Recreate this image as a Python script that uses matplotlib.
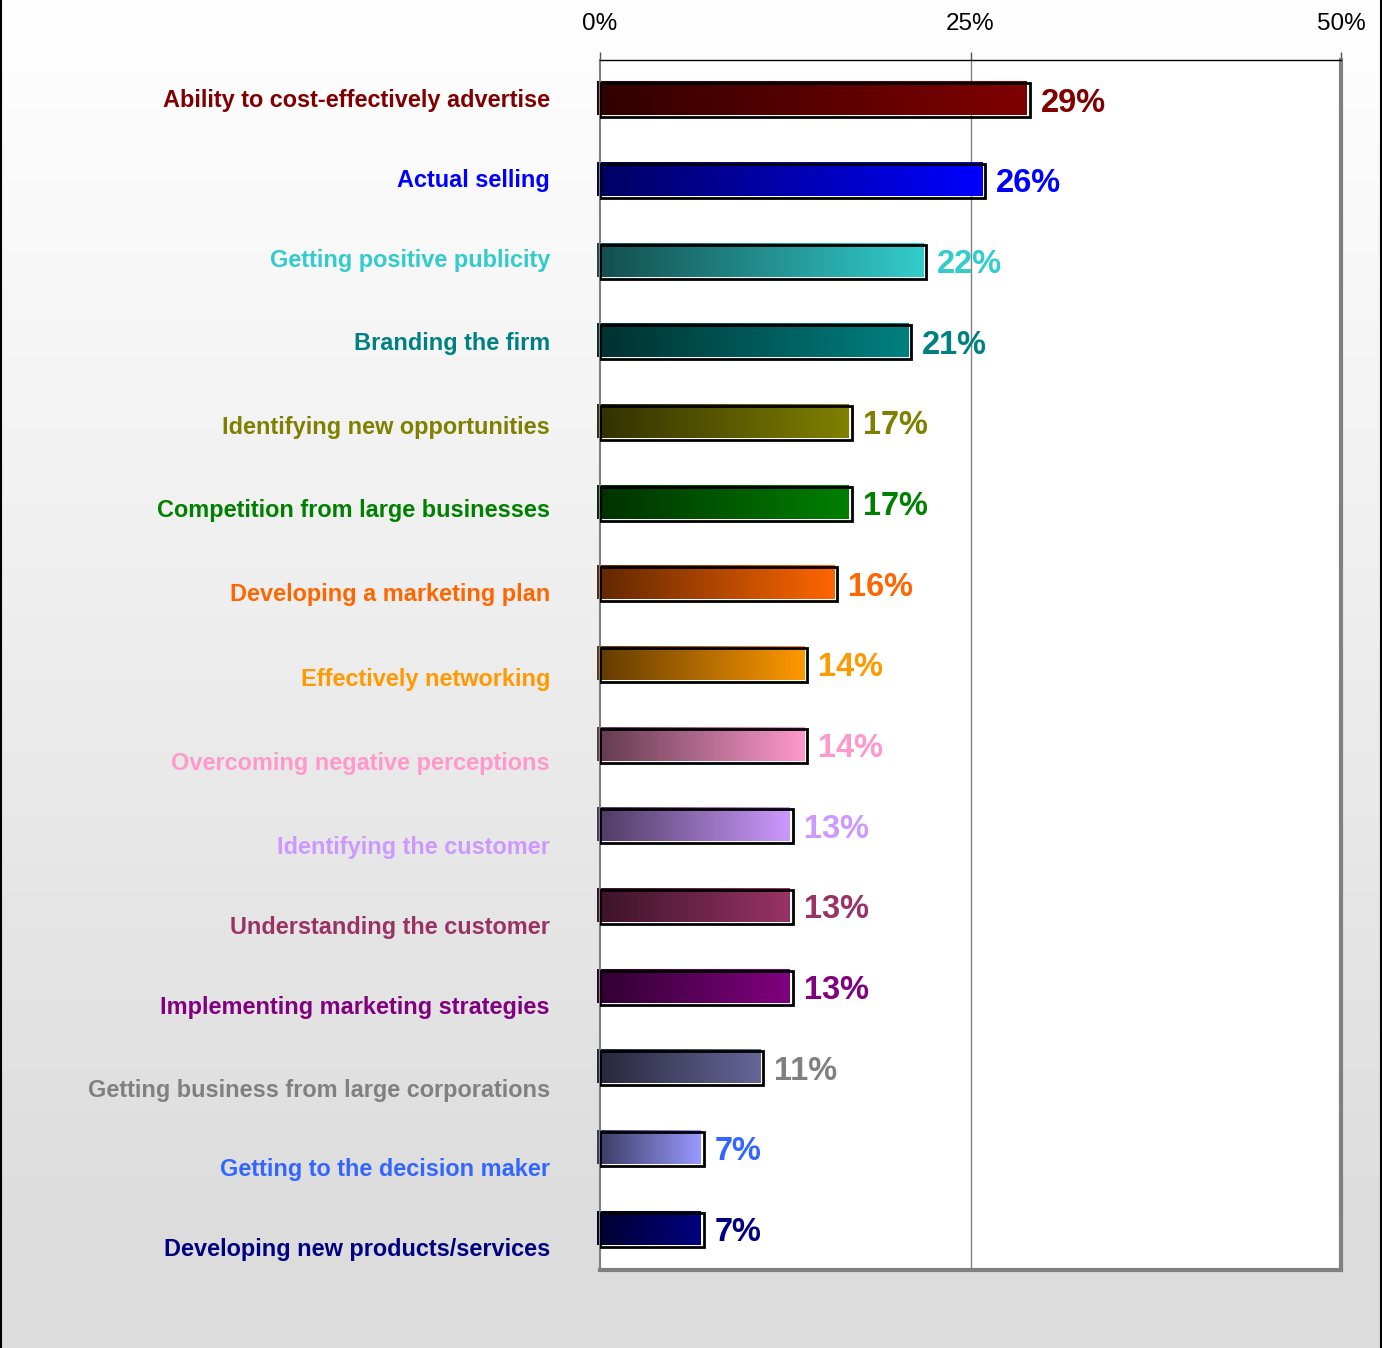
import numpy as np
import matplotlib
matplotlib.use("Agg")
import matplotlib.pyplot as plt
from matplotlib.colors import to_rgb
from matplotlib.lines import Line2D

plt.rcParams['font.family'] = ['Liberation Sans', 'DejaVu Sans']

categories = [
    "Ability to cost-effectively advertise",
    "Actual selling",
    "Getting positive publicity",
    "Branding the firm",
    "Identifying new opportunities",
    "Competition from large businesses",
    "Developing a marketing plan",
    "Effectively networking",
    "Overcoming negative perceptions",
    "Identifying the customer",
    "Understanding the customer",
    "Implementing marketing strategies",
    "Getting business from large corporations",
    "Getting to the decision maker",
    "Developing new products/services",
]
values = [29, 26, 22, 21, 17, 17, 16, 14, 14, 13, 13, 13, 11, 7, 7]
bar_colors = ["#800000", "#0000FF", "#33CCCC", "#008080", "#808000", "#008000",
              "#FF6600", "#FF9900", "#FF99CC", "#CC99FF", "#993366", "#800080",
              "#666699", "#9999FF", "#000080"]
text_colors = ["#800000", "#0000FF", "#33CCCC", "#008080", "#808000", "#008000",
               "#FF6600", "#FF9900", "#FF99CC", "#CC99FF", "#993366", "#800080",
               "#808080", "#3366FF", "#000080"]
x_ticks = [0, 25, 50]
x_tick_labels = ["0%", "25%", "50%"]

# category labels sit a little below their bars further down the list
label_shift = [0.0, -0.01, -0.02, 0.01, 0.05, 0.09, 0.13, 0.175, 0.22,
               0.26, 0.25, 0.24, 0.28, 0.26, 0.25]

W, H = 1382, 1348
fig = plt.figure(figsize=(W / 100, H / 100), dpi=100)

# page background: white fading to light grey
bg = fig.add_axes([0, 0, 1, 1], zorder=-1)
shade = np.linspace(1.0, 0.863, 256)
shade = np.concatenate([shade, np.full(20, 0.863)])
bg.imshow(np.dstack([shade[:, None]] * 3), aspect='auto', origin='upper',
          extent=(0, 1, 0, 1))
bg.set_xlim(0, 1)
bg.set_ylim(0, 1)
bg.axis('off')

ax = fig.add_axes([600 / W, 1 - 1270 / H, 741 / W, 1210 / H])
ax.set_facecolor("white")

n = len(values)
ypos = np.arange(n)
bh = 0.42
dx = 0.2   # gradient fill sits slightly up-left of its outline
dy = 0.025

for i, (v, c) in enumerate(zip(values, bar_colors)):
    rgb = np.array(to_rgb(c))
    t = np.linspace(0, 1, 256)[:, None]
    grad = (0.38 + 0.62 * t) * rgb
    ax.imshow(grad[None, :, :], aspect='auto', clip_on=False, zorder=2,
              extent=(-dx, v - dx, i + bh / 2 - dy, i - bh / 2 - dy),
              interpolation='bilinear')

ax.barh(ypos, values, height=bh, fill=False, edgecolor="black",
        linewidth=2, zorder=3)

for i, (v, c) in enumerate(zip(values, text_colors)):
    ax.annotate(f"{v}%", xy=(v, i), xytext=(11, -3), textcoords='offset pixels',
                ha='left', va='center', fontsize=23.5, fontweight='bold',
                color=c, zorder=4)

for i, (lab, c) in enumerate(zip(categories, text_colors)):
    ax.annotate(lab, xy=(0, i + label_shift[i]),
                xycoords=('axes fraction', 'data'),
                xytext=(-50, 0), textcoords='offset pixels',
                ha='right', va='center', fontsize=16.9, fontweight='bold',
                color=c, annotation_clip=False)

ax.set_xlim(0, 50)
ax.set_ylim(n - 0.5, -0.5)
ax.set_yticks([])
ax.xaxis.tick_top()
ax.set_xticks(x_ticks)
ax.set_xticklabels(x_tick_labels, fontsize=17.5)
ax.tick_params(axis='x', length=6, width=1, color="#555555", pad=12)
ax.axvline(25, color="#808080", linewidth=1, zorder=1)

ax.spines['top'].set_color("black")
ax.spines['top'].set_linewidth(1)
ax.spines['left'].set_color("#808080")
ax.spines['left'].set_linewidth(1.5)
for s in ('right', 'bottom'):
    ax.spines[s].set_color("#808080")
    ax.spines[s].set_linewidth(3)

# thin frame lines on the left and right edges of the page
fig.add_artist(Line2D([1 / W, 1 / W], [0, 1], color="black", linewidth=1.5))
fig.add_artist(Line2D([1 - 1.5 / W, 1 - 1.5 / W], [0, 1], color="black",
                      linewidth=1.5))

fig.savefig("out.png", dpi=100)
